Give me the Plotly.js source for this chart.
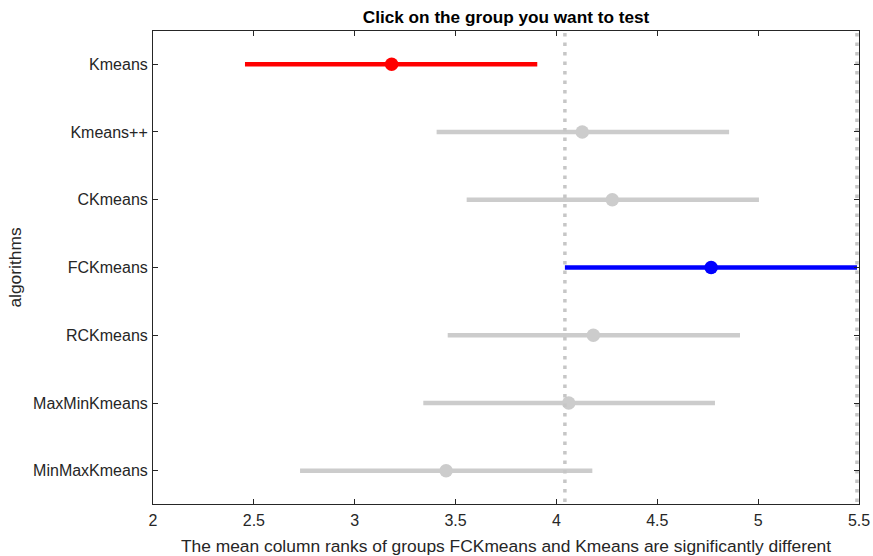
<!DOCTYPE html>
<html>
<head>
<meta charset="utf-8">
<script src="https://cdn.plot.ly/plotly-3.0.1.min.js"></script>
<style>html,body{margin:0;padding:0;background:#fff;}#chart{width:873px;height:556px;}</style>
</head>
<body>
<div id="chart"></div>
<script>
// Groups (top to bottom) and their mean column ranks with comparison intervals
const groups = ["Kmeans", "Kmeans++", "CKmeans", "FCKmeans", "RCKmeans", "MaxMinKmeans", "MinMaxKmeans"];
const means  = [3.183, 4.128, 4.277, 4.767, 4.183, 4.061, 3.453];
const lows   = [2.456, 3.406, 3.555, 4.042, 3.461, 3.340, 2.729];
const highs  = [3.905, 4.856, 5.004, 5.490, 4.910, 4.786, 4.178];
const selected = "FCKmeans";
const xTicks = [2, 2.5, 3, 3.5, 4, 4.5, 5, 5.5];
const xTickText = ["2", "2.5", "3", "3.5", "4", "4.5", "5", "5.5"];

const FONT = "Liberation Sans, Arial, Helvetica, sans-serif";
const sel = groups.indexOf(selected);
const traces = [];

// dotted reference lines at the selected group's interval bounds
[lows[sel], highs[sel]].forEach(v => {
  traces.push({
    type: "scatter", mode: "lines",
    x: [v, v], y: [-0.6, 6.6], yaxis: "y2",
    line: {color: "#c6c6c6", width: 3.5, dash: "3.5px,6px"},
    hoverinfo: "skip", showlegend: false
  });
});

groups.forEach((g, i) => {
  let color = "#cccccc";
  if (i === sel) color = "#0000ff";
  else if (highs[i] < lows[sel] || lows[i] > highs[sel]) color = "#ff0000";
  traces.push({
    type: "scatter", mode: "lines",
    x: [lows[i], highs[i]], y: [g, g],
    line: {color: color, width: 4.5},
    showlegend: false, hoverinfo: "skip"
  });
  traces.push({
    type: "scatter", mode: "markers",
    x: [means[i]], y: [g],
    marker: {color: color, size: 13.5, line: {width: 0}},
    showlegend: false
  });
});

const layout = {
  width: 873, height: 556,
  margin: {l: 153, r: 14, t: 31, b: 52},
  paper_bgcolor: "#ffffff", plot_bgcolor: "#ffffff",
  font: {family: FONT, color: "#262626", size: 16},
  title: {
    text: "<b>Click on the group you want to test</b>",
    font: {family: FONT, size: 17.2, color: "#000000"},
    x: 0.5, xref: "paper", y: 1 - 17/556, yref: "container", yanchor: "middle"
  },
  xaxis: {
    range: [2, 5.5], tickvals: xTicks, ticktext: xTickText,
    showgrid: false, zeroline: false,
    showline: true, mirror: "ticks", linecolor: "#262626", linewidth: 1,
    ticks: "inside", ticklen: 5, tickcolor: "#262626", tickwidth: 1,
    tickfont: {family: FONT, size: 16, color: "#262626"},
    ticklabelstandoff: 2,
    title: {text: "The mean column ranks of groups FCKmeans and Kmeans are significantly different",
            font: {family: FONT, size: 17.4, color: "#262626"}, standoff: 11}
  },
  yaxis: {
    type: "category", categoryarray: groups, categoryorder: "array",
    range: [6.49, -0.49],
    showgrid: false, zeroline: false,
    showline: true, mirror: "ticks", linecolor: "#262626", linewidth: 1,
    ticks: "inside", ticklen: 5, tickcolor: "#262626", tickwidth: 1,
    tickfont: {family: FONT, size: 16, color: "#262626"},
    ticklabelstandoff: 1,
    title: {text: "algorithms", font: {family: FONT, size: 17.4, color: "#262626"}, standoff: 7}
  },
  yaxis2: {
    overlaying: "y", range: [6.49, -0.49], visible: false, fixedrange: true
  }
};

Plotly.newPlot("chart", traces, layout, {staticPlot: true});
</script>
</body>
</html>
